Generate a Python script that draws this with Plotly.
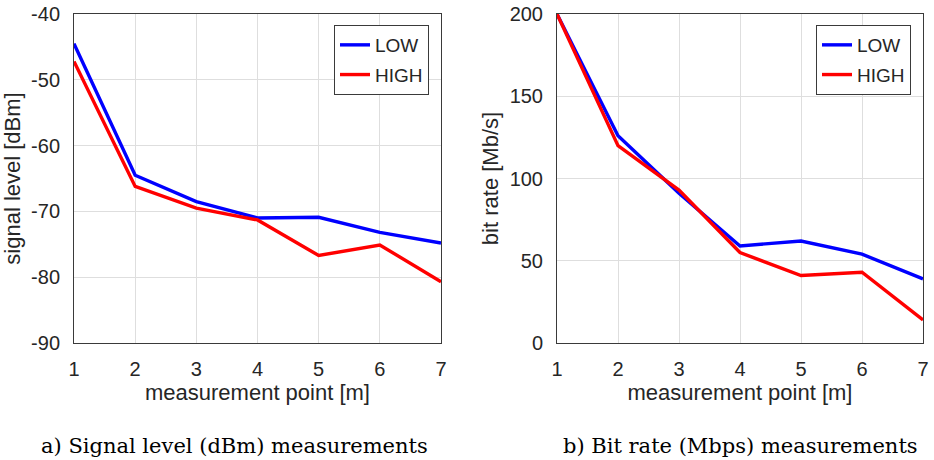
import plotly.graph_objects as go

points = [1, 2, 3, 4, 5, 6, 7]
signal_low = [-44.5, -64.5, -68.5, -71.0, -70.9, -73.2, -74.8]
signal_high = [-47.2, -66.2, -69.5, -71.3, -76.7, -75.1, -80.7]
rate_low = [200, 126, 91, 59, 62, 54, 39]
rate_high = [200, 120, 93, 55, 41, 43, 14]
signal_ticks = [-90, -80, -70, -60, -50, -40]
rate_ticks = [0, 50, 100, 150, 200]

W, H = 934, 460
BLUE = "#0000ff"
RED = "#ff0000"
FONT = "Liberation Sans, Arial, sans-serif"
SERIF = "DejaVu Serif, Liberation Serif, serif"

fig = go.Figure()
specs = [(signal_low, "LOW", BLUE, "x", "y", "legend", "a1"),
         (signal_high, "HIGH", RED, "x", "y", "legend", "a2"),
         (rate_low, "LOW", BLUE, "x2", "y2", "legend2", "b1"),
         (rate_high, "HIGH", RED, "x2", "y2", "legend2", "b2")]
for vals, name, col, xa, ya, lg, grp in specs:
    fig.add_trace(go.Scatter(x=points, y=vals, mode="lines", name=name,
                             line=dict(color=col, width=3.4), xaxis=xa, yaxis=ya,
                             legend=lg, legendgroup=grp))

y0, y1 = 1 - 343 / H, 1 - 14 / H
axcommon = dict(showgrid=True, gridcolor="#dedede", gridwidth=1, zeroline=False,
                showline=True, linecolor="#3a3a3a", linewidth=1, mirror=True,
                ticks="", automargin=False,
                tickfont=dict(family=FONT, size=20, color="#262626"),
                title_font=dict(family=FONT, size=22, color="#262626"))
xcommon = dict(range=[1, 7], tickvals=points, ticktext=[str(p) for p in points],
               ticklabelstandoff=8,
               title=dict(text="measurement point [m]", standoff=0), **axcommon)
legcommon = dict(y=1 - 25 / H, xanchor="right", yanchor="top",
                 bgcolor="white", bordercolor="#3a3a3a", borderwidth=1,
                 font=dict(family=FONT, size=19, color="#262626"),
                 tracegroupgap=2)

fig.update_layout(
    width=W, height=H,
    margin=dict(l=0, r=0, t=0, b=0, autoexpand=False),
    paper_bgcolor="white", plot_bgcolor="white",
    xaxis=dict(domain=[74 / W, 441 / W], anchor="y", **xcommon),
    yaxis=dict(domain=[y0, y1], range=[-90, -40], anchor="x",
               tickvals=signal_ticks, ticktext=[str(v) for v in signal_ticks],
               ticklabelstandoff=9,
               title=dict(text="signal level [dBm]", standoff=4), **axcommon),
    xaxis2=dict(domain=[557 / W, 923 / W], anchor="y2", **xcommon),
    yaxis2=dict(domain=[y0, y1], range=[0, 200], anchor="x2",
                tickvals=rate_ticks, ticktext=[str(v) for v in rate_ticks],
                ticklabelstandoff=9,
                title=dict(text="bit rate [Mb/s]", standoff=4), **axcommon),
    legend=dict(x=429 / W, **legcommon),
    legend2=dict(x=911 / W, **legcommon),
    showlegend=True,
)

fig.add_annotation(text="a) Signal level (dBm) measurements", x=39 / W, y=1 - 446 / H,
                   xref="paper", yref="paper", xanchor="left", yanchor="middle", showarrow=False,
                   font=dict(family=SERIF, size=21, color="black"))
fig.add_annotation(text="b) Bit rate (Mbps) measurements", x=920 / W, y=1 - 446 / H,
                   xref="paper", yref="paper", xanchor="right", yanchor="middle", showarrow=False,
                   font=dict(family=SERIF, size=21, color="black"))

fig.write_html("out.html", config={"displayModeBar": False},
               post_script="document.body.style.margin='0';document.body.style.overflow='hidden';")
